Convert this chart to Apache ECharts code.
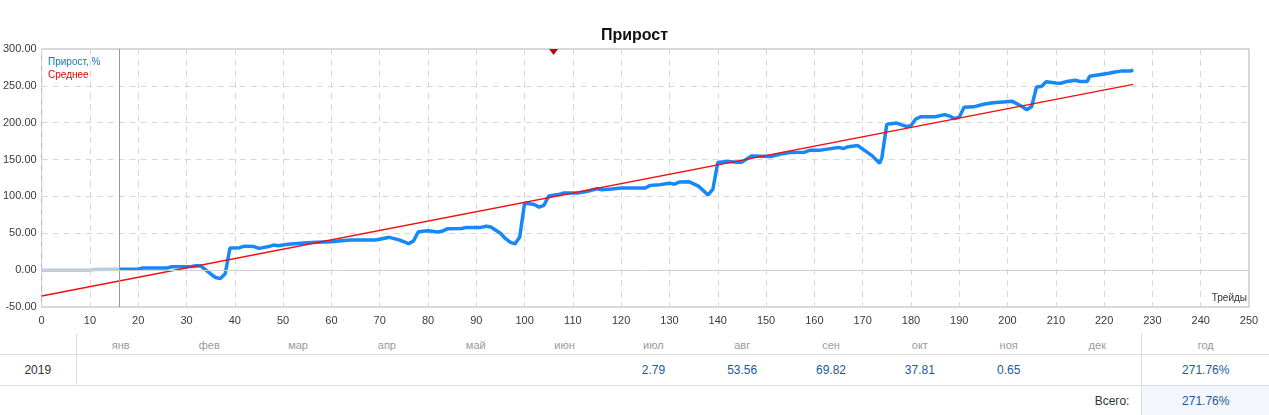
<!DOCTYPE html>
<html>
<head>
<meta charset="utf-8">
<script src="https://cdn.jsdelivr.net/npm/echarts@6/dist/echarts.min.js"></script>
<style>
  body { margin: 0; background: #fff; font-family: "Liberation Sans", Arial, sans-serif; }
  #chart { width: 1269px; height: 330px; }
  #stats { width: 1269px; margin-top: 4px; border-collapse: collapse; table-layout: fixed; font-size: 12px; }
  #stats td { padding: 0; text-align: center; }
  #stats tr.head td { height: 19px; padding-top: 1px; color: #9a9a9a; font-size: 11px; border-bottom: 1px solid #dcdcdc; }
  #stats tr.year td { height: 30px; color: #1b5a9a; border-bottom: 1px solid #dcdcdc; }
  #stats tr.year td.label { color: #333; }
  #stats tr.total td { height: 30px; }
  #stats td.sep-r { border-right: 1px solid #dcdcdc; }
  #stats td.sep-l { border-left: 1px solid #dcdcdc; }
  #stats td.total-label { text-align: right; padding-right: 12px; color: #333; }
  #stats td.total-val { background: #f3f6fb; color: #1b5a9a; }
</style>
</head>
<body>
<div id="chart"></div>
<table id="stats"></table>
<script>
// Growth before signal start (history), [trade, %]
const history = [[0, 0], [10, 0], [11, 1], [16, 1.2]];
// Growth curve after signal start, [trade, %]
const growth = [
  [16, 1.2], [20, 1.5], [21, 3], [26, 3], [27, 4.5], [31, 5], [32, 6], [33, 5.5], [35, -5], [36, -10], [37, -11.5], [38, -5],
  [39, 30], [41, 30.5], [42, 32.5], [44, 32], [45, 29.5], [47, 32], [48, 34], [49, 33], [51, 35], [53, 36],
  [55, 37], [57, 38], [60, 38.5], [62, 40], [64, 41], [69, 41], [70, 42], [72, 44.5], [74, 41], [76, 36], [77, 39.5],
  [78, 52], [80, 53.5], [82, 51.8], [83, 53], [84, 56], [87, 56.5], [88, 58], [91, 58], [92, 59.5], [93, 58.5],
  [95, 50], [96, 43], [97, 38], [98, 35.5], [99, 45], [100, 91], [102, 89], [103, 85.5], [104, 88], [105, 100.5],
  [107, 102.5], [108, 104.5], [111, 104.5], [113, 107], [115, 110.5], [116, 109], [118, 110], [120, 111.5],
  [125, 111.5], [126, 115], [128, 116], [130, 118], [131, 116.5], [132, 119.5], [134, 120], [136, 114], [138, 102],
  [139, 110], [140, 146], [142, 147.5], [144, 146.5], [145, 146.5], [147, 155], [149, 154.5], [151, 154],
  [153, 157.5], [155, 159.5], [158, 160], [159, 162.5], [161, 162.5], [163, 164.5], [165, 166.5], [166, 165],
  [167, 167.5], [169, 169], [172, 155], [173.5, 145], [174, 153], [175, 198], [177, 199.5], [179, 195], [180, 196],
  [181, 205], [182, 208], [185, 208], [187, 211], [188, 209], [189, 205.5], [190, 207.5], [191, 221], [193, 221.5],
  [195, 225], [197, 227], [199, 228], [201, 229], [203, 222], [204, 217.5], [205, 222], [206, 248.5], [207, 249],
  [208, 255.5], [210, 254], [211, 253.5], [212, 255.5], [214, 257.5], [215, 256], [216.5, 256], [217, 263],
  [219, 265], [221, 267], [222, 268.5], [223.5, 270], [225.5, 270], [226, 272]
];
// Linear average
const average = [[0, -35], [226, 252]];

const historyEnd = 16;   // trades before signal start
const markerTrade = 106;

const months = ['янв', 'фев', 'мар', 'апр', 'май', 'июн', 'июл', 'авг', 'сен', 'окт', 'ноя', 'дек'];
const monthGain = [null, null, null, null, null, null, 2.79, 53.56, 69.82, 37.81, 0.65, null];
const yearName = '2019';
const yearGain = 271.76;
const totalGain = 271.76;

const BLUE = '#1688f8';
const axisText = { color: '#3a3a3a', fontSize: 11, fontFamily: 'Liberation Sans' };

const chart = echarts.init(document.getElementById('chart'), null, { renderer: 'canvas' });

chart.setOption({
  animation: false,
  title: {
    text: 'Прирост',
    left: 'center',
    top: 23,
    textStyle: { fontSize: 16, fontWeight: 'bold', color: '#111', fontFamily: 'Liberation Sans' },
  },
  legend: {
    orient: 'vertical',
    left: 38,
    top: 52,
    itemGap: 3,
    itemWidth: 0,
    itemHeight: 10,
    icon: 'none',
    selectedMode: false,
    textStyle: { fontSize: 10, fontFamily: 'Liberation Sans' },
    data: [
      { name: 'Прирост, %', textStyle: { color: '#1f6fd0' } },
      { name: 'Среднее', textStyle: { color: '#e00000' } },
    ],
  },
  grid: {
    left: 41, right: 20, top: 49, bottom: 23,
    show: true, borderColor: '#b0b0b0', borderWidth: 1,
  },
  graphic: [
    {
      type: 'text', right: 22, top: 293,
      style: { text: 'Трейды', fill: '#333', fontSize: 10, fontFamily: 'Liberation Sans' },
    },
  ],
  xAxis: {
    type: 'value',
    min: 0, max: 250, interval: 10,
    axisLine: { show: false },
    axisTick: { show: false },
    axisLabel: { ...axisText, margin: 8 },
    splitLine: { lineStyle: { color: '#d8d8d8', type: [6, 5] } },
  },
  yAxis: {
    type: 'value',
    min: -50, max: 300, interval: 50,
    axisLine: { show: false },
    axisTick: { show: false },
    axisLabel: { ...axisText, margin: 5, formatter: (v) => v.toFixed(2) },
    splitLine: { lineStyle: { color: '#d8d8d8', type: [6, 5] } },
  },
  series: [
    {
      name: 'История',
      type: 'line',
      data: history,
      symbol: 'none',
      z: 3,
      lineStyle: { width: 3.5, color: '#b0cdea' },
      itemStyle: { color: '#b0cdea' },
      markLine: {
        silent: true,
        symbol: 'none',
        label: { show: false },
        data: [
          { xAxis: historyEnd, lineStyle: { color: '#9a9a9a', type: 'solid', width: 1 } },
          { yAxis: 0, lineStyle: { color: '#d0d0d0', type: 'solid', width: 1 } },
        ],
      },
    },
    {
      name: 'Прирост, %',
      type: 'line',
      data: growth,
      symbol: 'none',
      z: 3,
      lineStyle: { width: 3.5, color: BLUE },
      itemStyle: { color: BLUE },
    },
    {
      name: 'Среднее',
      type: 'line',
      data: average,
      symbol: 'none',
      z: 4,
      lineStyle: { width: 1.5, color: '#f01010' },
      itemStyle: { color: '#f01010' },
      markPoint: {
        silent: true,
        symbol: 'triangle',
        symbolRotate: 180,
        symbolSize: [9, 6],
        symbolOffset: [0, 3],
        label: { show: false },
        itemStyle: { color: '#c00010' },
        data: [{ coord: [markerTrade, 300] }],
      },
    },
  ],
});

// monthly table
const table = document.getElementById('stats');
let html = '<colgroup><col style="width:76px">';
months.forEach(() => { html += '<col style="width:88.83px">'; });
html += '<col style="width:127px"></colgroup>';
html += '<tr class="head"><td class="sep-r"></td>' + months.map((m) => `<td>${m}</td>`).join('') + '<td class="sep-l">год</td></tr>';
html += `<tr class="year"><td class="label sep-r">${yearName}</td>` +
  monthGain.map((v) => `<td>${v == null ? '' : v.toFixed(2)}</td>`).join('') +
  `<td class="sep-l">${yearGain.toFixed(2)}%</td></tr>`;
html += `<tr class="total"><td class="total-label" colspan="13">Всего:</td><td class="total-val sep-l">${totalGain.toFixed(2)}%</td></tr>`;
table.innerHTML = html;
</script>
</body>
</html>
